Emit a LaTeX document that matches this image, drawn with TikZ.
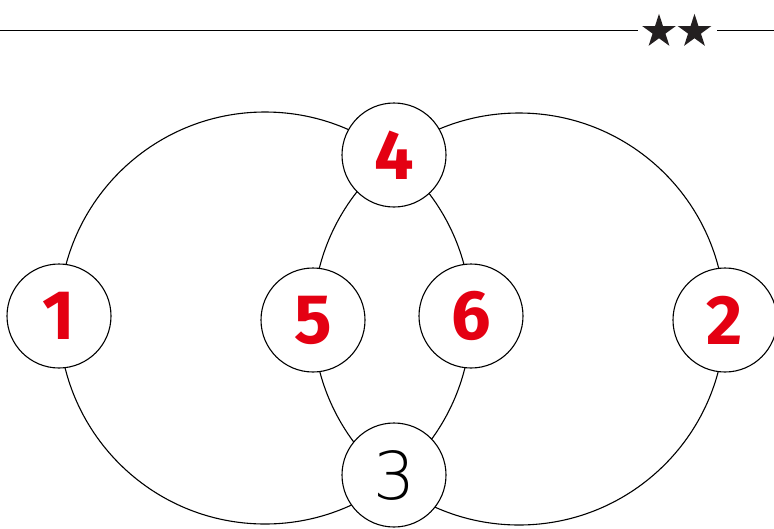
\documentclass[tikz,border=0pt]{standalone}
\usepackage{fontspec}
\usetikzlibrary{shapes.geometric}
\newfontfamily\digitfont{Fira Sans}
\newfontfamily\thinfont{DejaVu Sans ExtraLight}
\definecolor{numred}{RGB}{228,0,18}
\definecolor{stargray}{RGB}{35,31,32}
\tikzset{
  numnode/.style={circle, draw=black, line width=1.1pt, fill=white, minimum size=104pt, inner sep=0pt},
  rednum/.style={numnode, text=numred, font=\digitfont\bfseries\fontsize{70}{70}\selectfont},
  plainnum/.style={numnode, text=black, font=\thinfont\fontsize{66}{66}\selectfont},
  bigring/.style={draw=black, line width=1.1pt},
  rule/.style={draw=black, line width=1pt},
  starmark/.style={star, star points=5, star point ratio=2.618, fill=stargray, draw=none, minimum size=35.4pt, inner sep=0pt}
}
\begin{document}
\begin{tikzpicture}[x=1pt,y=-1pt]
\useasboundingbox (0,0) rectangle (774,528);
% header rule with stars
\coordinate (ruleL) at (0,30);
\coordinate (ruleR) at (774,30);
\node[starmark] (s1) at (659,31.5) {};
\node[starmark] (s2) at (694.5,31.5) {};
\coordinate (ruleA) at (638,30);
\coordinate (ruleB) at (717,30);
\draw[rule] (ruleL) -- (ruleA);
\draw[rule] (ruleB) -- (ruleR);
% two big circles
\coordinate (cL) at (265,318);
\coordinate (cR) at (519,319);
\draw[bigring] (cL) circle[radius=206pt];
\draw[bigring] (cR) circle[radius=206pt];
% number nodes
\node[rednum] (n1) at (59,316) {1};
\node[rednum] (n5) at (313,320) {5};
\node[rednum] (n6) at (471,316) {6};
\node[rednum] (n2) at (725,320) {2};
\node[rednum] (n4) at (394,155) {4};
\node[plainnum] (n3) at (394,475) {3};
\end{tikzpicture}
\end{document}
